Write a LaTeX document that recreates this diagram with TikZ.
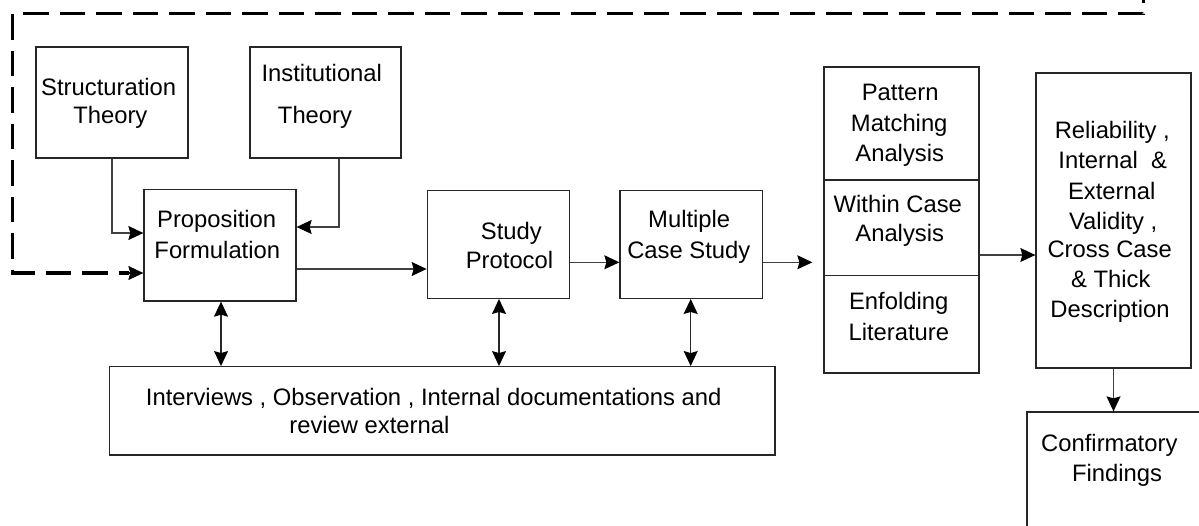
\documentclass[tikz,border=0pt]{standalone}
\usepackage{fontspec}
\setmainfont{Liberation Sans}
\usetikzlibrary{arrows.meta}
\begin{document}
\begin{tikzpicture}[x=1pt,y=-1pt,
  tip/.tip={Stealth[length=15pt,width=14pt,inset=2pt,color=black]},
  box/.style={draw=black!85,line width=1.3pt,rectangle,inner sep=0pt},
  txt/.style={anchor=base,inner sep=0pt,font=\fontsize{23.8}{29}\selectfont},
  conn/.style={draw=black!75,line width=1.2pt,-tip},
  dconn/.style={draw=black!85,line width=1.2pt,tip-tip},
  fb/.style={draw=black,line width=3.2pt,dash pattern=on 25.5pt off 11pt,dash phase=23pt}]
\useasboundingbox (0,0) rectangle (1199,525);
\clip (0,0) rectangle (1199,525);
% boxes
\node[box,minimum width=152pt,minimum height=111pt] (struct) at (112,102.5) {};
\node[box,minimum width=151pt,minimum height=111pt] (inst) at (325.5,102.5) {};
\node[box,minimum width=152pt,minimum height=111.5pt] (prop) at (220,245.25) {};
\node[box,minimum width=142pt,minimum height=107.6pt] (sp) at (498.3,244.5) {};
\node[box,minimum width=142.3pt,minimum height=107.6pt] (mcs) at (691.15,244.5) {};
\node[box,minimum width=665.7pt,minimum height=88.3pt] (bot) at (442.15,410.85) {};
\node[box,minimum width=155pt,minimum height=113pt] (pma) at (901.5,123.5) {};
\node[box,minimum width=155pt,minimum height=95.5pt] (wca) at (901.5,227.75) {};
\node[box,minimum width=155pt,minimum height=97.5pt] (enf) at (901.5,324.25) {};
\node[box,minimum width=155pt,minimum height=295pt] (rel) at (1113.5,220.5) {};
\node[box,minimum width=190pt,minimum height=130pt] (conf) at (1122,477) {};
% texts
\node[txt] (t1) at (108.7,95) {Structuration};
\node[txt] (t2) at (110.3,123.3) {Theory};
\node[txt] (t3) at (321.8,81) {Institutional};
\node[txt] (t4) at (315,123.3) {Theory};
\node[txt] (t5) at (216.7,227.3) {Proposition};
\node[txt] (t6) at (217.3,258.3) {Formulation};
\node[txt] (t7) at (511.3,239) {Study};
\node[txt] (t8) at (509.5,268.3) {Protocol};
\node[txt] (t9) at (689.2,227.3) {Multiple};
\node[txt] (t10) at (688.8,258.3) {Case Study};
\node[txt] (t11) at (433.7,405) {Interviews , Observation , Internal documentations and};
\node[txt] (t12) at (369.4,433.3) {review external};
\node[txt] (t13) at (900.2,100) {Pattern};
\node[txt] (t14) at (899.2,131.7) {Matching};
\node[txt] (t15) at (899.7,161) {Analysis};
\node[txt] (t16) at (897.8,212.3) {Within Case};
\node[txt] (t17) at (899.7,241.7) {Analysis};
\node[txt] (t18) at (898.7,309.3) {Enfolding};
\node[txt] (t19) at (898.8,340) {Literature};
\node[txt] (t20) at (1112.3,138.3) {Reliability ,};
\node[txt] (t21) at (1112.7,168.3) {Internal\ \ \&};
\node[txt] (t22) at (1111.7,199) {External};
\node[txt] (t23) at (1113.2,229.3) {Validity ,};
\node[txt] (t24) at (1109.7,257.7) {Cross Case};
\node[txt] (t25) at (1110.8,287.3) {\& Thick};
\node[txt] (t26) at (1110,317.7) {Description};
\node[txt] (t27) at (1109.3,451.7) {Confirmatory};
\node[txt] (t28) at (1117,481) {Findings};
% feedback dashed loop
\coordinate (fbstart) at (1143.5,0);
\coordinate (fbtr) at (1143.5,13.5);
\coordinate (fbtl) at (12.5,13.5);
\coordinate (fbbl) at (12.5,273);
\coordinate (fbend) at ([yshift=-27.75pt]prop.west);
\draw[fb] (fbstart) -- (fbtr) -- (fbtl) -- (fbbl) -- ([xshift=-14pt]fbend);
\draw[draw=black,line width=1.2pt,-tip] ([xshift=-18pt]fbend) -- (fbend);
% connectors
\draw[conn] (struct.south -| 112,0) -- (112,233) -- (112,233 -| prop.west);
\draw[conn] (inst.south -| 339,0) -- (339,227) -- (339,227 -| prop.east);
\draw[conn] (prop.east |- 0,269) -- (sp.west |- 0,269);
\draw[conn] (sp.east |- 0,262.3) -- (mcs.west |- 0,262.3);
\draw[conn] (mcs.east |- 0,262.3) -- ([xshift=-11pt]pma.west |- 0,262.3);
\draw[conn] (wca.east |- 0,255) -- (rel.west |- 0,255);
\draw[conn] (rel.south) -- (conf.north -| rel.south);
\draw[dconn] (prop.south -| 221,0) -- (bot.north -| 221,0);
\draw[dconn] (sp.south -| 499,0) -- (bot.north -| 499,0);
\draw[dconn] (mcs.south -| 690.7,0) -- (bot.north -| 690.7,0);
\end{tikzpicture}
\end{document}
